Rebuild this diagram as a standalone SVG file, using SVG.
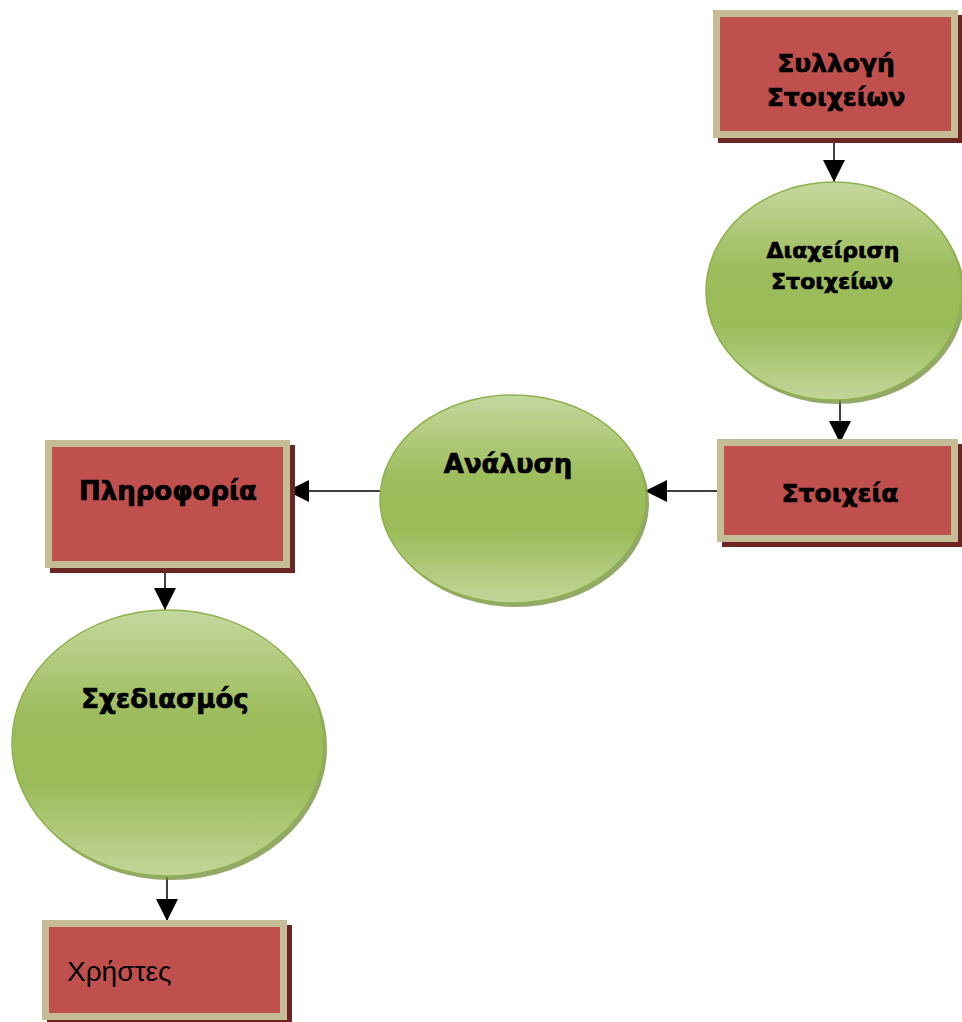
<svg xmlns="http://www.w3.org/2000/svg" width="962" height="1022" viewBox="0 0 962 1022">
<defs>
<linearGradient id="g" x1="0" y1="0" x2="0" y2="1">
<stop offset="0" stop-color="#c4d89e"/>
<stop offset="0.4" stop-color="#9dbc5b"/>
<stop offset="0.65" stop-color="#9bbb59"/>
<stop offset="1" stop-color="#c2d699"/>
</linearGradient>
<marker id="ah" markerUnits="userSpaceOnUse" markerWidth="22" markerHeight="22" viewBox="0 0 22 22" refX="22" refY="11" orient="auto">
<path d="M0,0 L22,11 L0,22 Z" fill="#000"/>
</marker>
</defs>
<style>
.sh{fill:#6b2624}
.bd{fill:#c4bc96}
.rd{fill:#c0504d}
.esh{fill:#6f8c37;opacity:0.75}
.el{fill:url(#g);stroke:#8fb04d;stroke-width:1.5}
.t{font-family:"DejaVu Sans","Liberation Sans",sans-serif;font-weight:bold;fill:#000;stroke:#000;stroke-width:0.7;text-anchor:middle}
.n{font-family:"Liberation Sans","DejaVu Sans",sans-serif;fill:#000}
.c{stroke:#000;stroke-width:1.5;fill:none;marker-end:url(#ah)}
</style>
<rect width="962" height="1022" fill="#fff"/>
<g id="connectors">
<line class="c" x1="834" y1="138" x2="834" y2="182"/>
<line class="c" x1="840" y1="400" x2="840" y2="443"/>
<line class="c" x1="717" y1="491" x2="645" y2="491"/>
<line class="c" x1="380" y1="491" x2="287" y2="491"/>
<line class="c" x1="165" y1="568" x2="165" y2="610"/>
<line class="c" x1="167" y1="877" x2="167" y2="921"/>
</g>
<g id="node-syllogi">
<rect class="sh" x="718" y="15" width="245" height="128"/>
<rect class="bd" x="713" y="10" width="245" height="128"/>
<rect class="rd" x="720" y="17" width="231" height="114"/>
<text class="t" x="836" y="72" font-size="25">Συλλογή</text>
<text class="t" x="836" y="106" font-size="25">Στοιχείων</text>
</g>
<g id="node-diaxeirisi">
<ellipse class="esh" cx="837" cy="295" rx="128" ry="109"/>
<ellipse class="el" cx="834" cy="291" rx="128" ry="109"/>
<text class="t" x="833" y="258" font-size="22">Διαχείριση</text>
<text class="t" x="832" y="289" font-size="22">Στοιχείων</text>
</g>
<g id="node-stoixeia">
<rect class="sh" x="722" y="444" width="241" height="103"/>
<rect class="bd" x="717" y="439" width="241" height="103"/>
<rect class="rd" x="724" y="446" width="227" height="89"/>
<text class="t" x="840" y="502" font-size="25">Στοιχεία</text>
</g>
<g id="node-analysi">
<ellipse class="esh" cx="516" cy="503" rx="133" ry="104"/>
<ellipse class="el" cx="513" cy="499" rx="133" ry="104"/>
<text class="t" x="508" y="473" font-size="26">Ανάλυση</text>
</g>
<g id="node-pliroforia">
<rect class="sh" x="50" y="445" width="245" height="128"/>
<rect class="bd" x="45" y="440" width="245" height="128"/>
<rect class="rd" x="52" y="447" width="231" height="114"/>
<text class="t" x="168" y="500" font-size="26">Πληροφορία</text>
</g>
<g id="node-sxediasmos">
<ellipse class="esh" cx="171" cy="747" rx="156" ry="133"/>
<ellipse class="el" cx="168" cy="743" rx="156" ry="133"/>
<text class="t" x="165" y="708" font-size="26">Σχεδιασμός</text>
</g>
<g id="node-xristes">
<rect class="sh" x="47" y="925" width="245" height="100"/>
<rect class="bd" x="42" y="920" width="245" height="100"/>
<rect class="rd" x="49" y="927" width="231" height="86"/>
<text class="n" x="67" y="981" font-size="28">Χρήστες</text>
</g>
</svg>
